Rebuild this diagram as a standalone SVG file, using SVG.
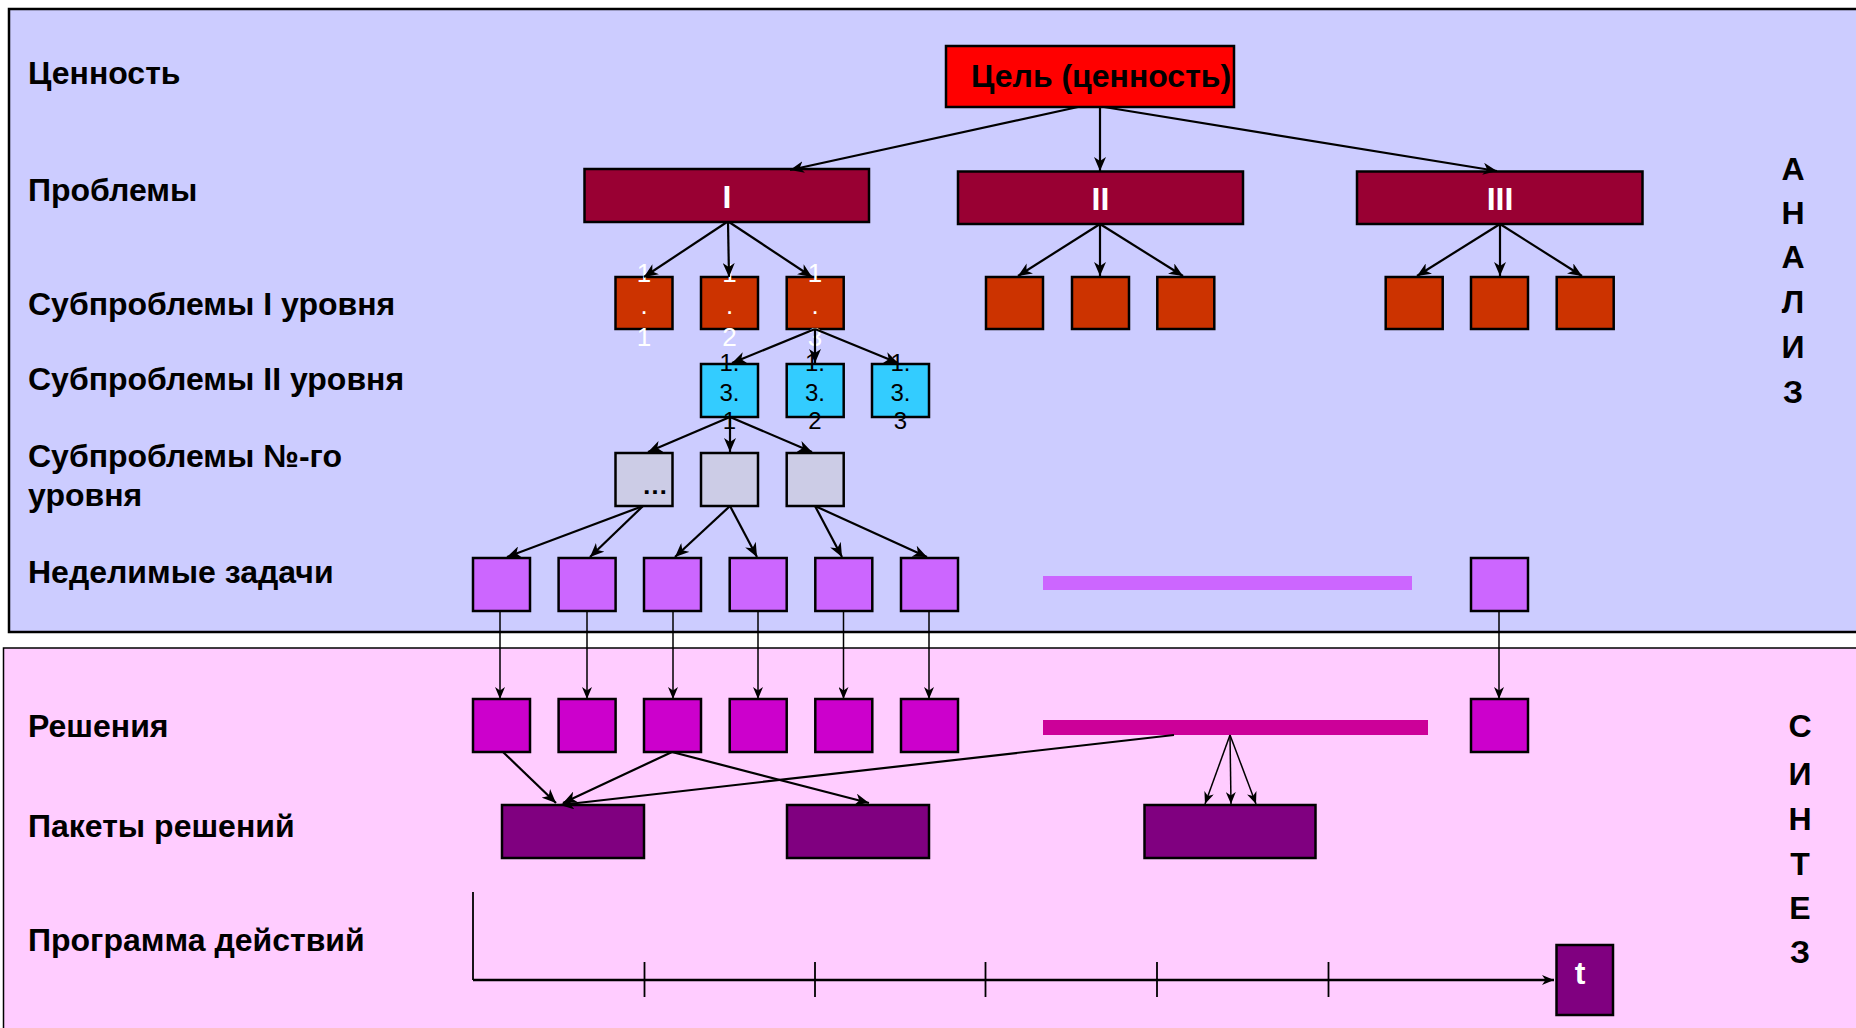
<svg xmlns="http://www.w3.org/2000/svg" width="1856" height="1028" viewBox="0 0 1856 1028">
<defs>
<marker id="arr" markerUnits="userSpaceOnUse" markerWidth="16" markerHeight="12" refX="14" refY="6" orient="auto">
<path d="M0,0 L14,6 L0,12 L4,6 z" fill="#000"/>
</marker>
<marker id="arrs" markerUnits="userSpaceOnUse" markerWidth="14" markerHeight="10" refX="12" refY="5" orient="auto">
<path d="M0,0 L12,5 L0,10 L3.5,5 z" fill="#000"/>
</marker>
</defs>
<style>
.lbl{font-family:"Liberation Sans",Arial,sans-serif;font-weight:bold;font-size:32px;fill:#000}
.side{font-family:"Liberation Sans",Arial,sans-serif;font-weight:bold;font-size:32px;fill:#000;text-anchor:middle}
.box{stroke:#000;stroke-width:2.5}
.goal{fill:#FF0000}
.prob{fill:#990033}
.sub1{fill:#CC3300}
.sub2{fill:#33CCFF}
.subn{fill:#CCCCE6}
.task{fill:#CC66FF}
.sol{fill:#CC00CC}
.pack{fill:#800080}
.wt{font-family:"Liberation Sans",Arial,sans-serif;font-weight:bold;font-size:32px;fill:#fff;text-anchor:middle}
.n1{font-family:"Liberation Sans",Arial,sans-serif;font-size:26px;fill:#fff;text-anchor:middle}
.n2{font-family:"Liberation Sans",Arial,sans-serif;font-size:24px;fill:#000;text-anchor:middle}
.c{stroke:#000;stroke-width:2.2;fill:none;marker-end:url(#arr)}
.cs{stroke:#000;stroke-width:1.5;fill:none;marker-end:url(#arrs)}
.tl{stroke:#000;stroke-width:1.8;fill:none}
</style>

<g id="panels">
<rect x="9" y="9" width="1870" height="623" fill="#CCCCFF" stroke="#000" stroke-width="2.5"/>
<rect x="3.5" y="648" width="1880" height="400" fill="#FFCCFF" stroke="#000" stroke-width="1.5"/>
</g>

<g id="labels">
<text class="lbl" x="28" y="84">Ценность</text>
<text class="lbl" x="28" y="201">Проблемы</text>
<text class="lbl" x="28" y="315">Субпроблемы I уровня</text>
<text class="lbl" x="28" y="390">Субпроблемы II уровня</text>
<text class="lbl" x="28" y="467">Субпроблемы №-го</text>
<text class="lbl" x="28" y="506">уровня</text>
<text class="lbl" x="28" y="583">Неделимые задачи</text>
<text class="lbl" x="28" y="737">Решения</text>
<text class="lbl" x="28" y="837">Пакеты решений</text>
<text class="lbl" x="28" y="951">Программа действий</text>
</g>

<g id="analysis-label">
<text class="side" x="1793" y="180">А</text>
<text class="side" x="1793" y="224">Н</text>
<text class="side" x="1793" y="268">А</text>
<text class="side" x="1793" y="313">Л</text>
<text class="side" x="1793" y="358">И</text>
<text class="side" x="1793" y="403">З</text>
</g>
<g id="synthesis-label">
<text class="side" x="1800" y="737">С</text>
<text class="side" x="1800" y="785">И</text>
<text class="side" x="1800" y="830">Н</text>
<text class="side" x="1800" y="875">Т</text>
<text class="side" x="1800" y="919">Е</text>
<text class="side" x="1800" y="963">З</text>
</g>

<g id="goal">
<rect class="box goal" x="946" y="46" width="288" height="61"/>
<text class="lbl" x="971" y="87">Цель (ценность)</text>
</g>

<g id="problem-I"><rect class="box prob" x="584.5" y="169" width="284.5" height="53"/><text class="wt" x="727" y="208">I</text></g>
<g id="problem-II"><rect class="box prob" x="958" y="171.5" width="285" height="52.5"/><text class="wt" x="1100.5" y="209.5">II</text></g>
<g id="problem-III"><rect class="box prob" x="1357" y="171.5" width="285.5" height="52.5"/><text class="wt" x="1500" y="209.5">III</text></g>

<g id="sub-1-1"><rect class="box sub1" x="615.5" y="277" width="57" height="52"/><text class="n1" x="644" y="282">1</text><text class="n1" x="644" y="313.5">.</text><text class="n1" x="644" y="345.5">1</text></g>
<g id="sub-1-2"><rect class="box sub1" x="701" y="277" width="57" height="52"/><text class="n1" x="729.5" y="282">1</text><text class="n1" x="729.5" y="313.5">.</text><text class="n1" x="729.5" y="345.5">2</text></g>
<g id="sub-1-3"><rect class="box sub1" x="786.7" y="277" width="57" height="52"/><text class="n1" x="815" y="282">1</text><text class="n1" x="815" y="313.5">.</text><text class="n1" x="815" y="345.5">3</text></g>
<g id="sub-2-1"><rect class="box sub1" x="986" y="277" width="57" height="52"/></g>
<g id="sub-2-2"><rect class="box sub1" x="1072" y="277" width="57" height="52"/></g>
<g id="sub-2-3"><rect class="box sub1" x="1157.3" y="277" width="57" height="52"/></g>
<g id="sub-3-1"><rect class="box sub1" x="1385.7" y="277" width="57" height="52"/></g>
<g id="sub-3-2"><rect class="box sub1" x="1471" y="277" width="57" height="52"/></g>
<g id="sub-3-3"><rect class="box sub1" x="1556.7" y="277" width="57" height="52"/></g>

<g id="sub-1-3-1"><rect class="box sub2" x="701" y="364" width="57" height="53"/><text class="n2" x="729.5" y="371">1.</text><text class="n2" x="729.5" y="400.5">3.</text><text class="n2" x="729.5" y="429">1</text></g>
<g id="sub-1-3-2"><rect class="box sub2" x="786.7" y="364" width="57" height="53"/><text class="n2" x="815" y="371">1.</text><text class="n2" x="815" y="400.5">3.</text><text class="n2" x="815" y="429">2</text></g>
<g id="sub-1-3-3"><rect class="box sub2" x="872" y="364" width="57" height="53"/><text class="n2" x="900.5" y="371">1.</text><text class="n2" x="900.5" y="400.5">3.</text><text class="n2" x="900.5" y="429">3</text></g>

<g id="subn-1"><rect class="box subn" x="615.5" y="453" width="57" height="53"/><text x="668" y="494" style="font-family:'Liberation Sans',Arial,sans-serif;font-weight:bold;font-size:26px;text-anchor:end">…</text></g>
<g id="subn-2"><rect class="box subn" x="701" y="453" width="57" height="53"/></g>
<g id="subn-3"><rect class="box subn" x="786.7" y="453" width="57" height="53"/></g>

<g id="task-1"><rect class="box task" x="473" y="558" width="57" height="53"/></g>
<g id="task-2"><rect class="box task" x="558.6" y="558" width="57" height="53"/></g>
<g id="task-3"><rect class="box task" x="644" y="558" width="57" height="53"/></g>
<g id="task-4"><rect class="box task" x="729.7" y="558" width="57" height="53"/></g>
<g id="task-5"><rect class="box task" x="815.3" y="558" width="57" height="53"/></g>
<g id="task-6"><rect class="box task" x="901" y="558" width="57" height="53"/></g>
<g id="task-bar"><rect x="1043" y="576" width="369" height="14" fill="#CC66FF"/></g>
<g id="task-n"><rect class="box task" x="1471" y="558" width="57" height="53"/></g>

<g id="sol-1"><rect class="box sol" x="473" y="699" width="57" height="53"/></g>
<g id="sol-2"><rect class="box sol" x="558.6" y="699" width="57" height="53"/></g>
<g id="sol-3"><rect class="box sol" x="644" y="699" width="57" height="53"/></g>
<g id="sol-4"><rect class="box sol" x="729.7" y="699" width="57" height="53"/></g>
<g id="sol-5"><rect class="box sol" x="815.3" y="699" width="57" height="53"/></g>
<g id="sol-6"><rect class="box sol" x="901" y="699" width="57" height="53"/></g>
<g id="sol-bar"><rect x="1043" y="720" width="385" height="15" fill="#CC0099"/></g>
<g id="sol-n"><rect class="box sol" x="1471" y="699" width="57" height="53"/></g>

<g id="pack-1"><rect class="box pack" x="502" y="805" width="142" height="53"/></g>
<g id="pack-2"><rect class="box pack" x="787" y="805" width="142" height="53"/></g>
<g id="pack-3"><rect class="box pack" x="1144.5" y="805" width="171" height="53"/></g>

<g id="timeline">
<line class="tl" x1="473" y1="892" x2="473" y2="980"/>
<line class="tl" x1="644.5" y1="962" x2="644.5" y2="997"/>
<line class="tl" x1="815" y1="962" x2="815" y2="997"/>
<line class="tl" x1="985.5" y1="962" x2="985.5" y2="997"/>
<line class="tl" x1="1157" y1="962" x2="1157" y2="997"/>
<line class="tl" x1="1328.5" y1="962" x2="1328.5" y2="997"/>
</g>
<g id="t-box"><rect class="box pack" x="1556.5" y="945" width="56.5" height="70"/><text class="wt" x="1580" y="984">t</text></g>

<g id="connectors">
<line class="c" x1="1078" y1="107" x2="790" y2="170"/>
<line class="c" x1="1100" y1="107" x2="1100" y2="171"/>
<line class="c" x1="1104" y1="107" x2="1497" y2="171"/>
<line class="c" x1="727" y1="222" x2="644" y2="277"/>
<line class="c" x1="728" y1="222" x2="729" y2="277"/>
<line class="c" x1="729" y1="222" x2="812" y2="277"/>
<line class="c" x1="1100" y1="224" x2="1018" y2="276"/>
<line class="c" x1="1100" y1="224" x2="1100" y2="276"/>
<line class="c" x1="1100" y1="224" x2="1183" y2="276"/>
<line class="c" x1="1500" y1="224" x2="1417" y2="276"/>
<line class="c" x1="1500" y1="224" x2="1500" y2="276"/>
<line class="c" x1="1500" y1="224" x2="1582" y2="276"/>
<line class="c" x1="815" y1="329" x2="732" y2="363"/>
<line class="c" x1="815" y1="329" x2="815" y2="363"/>
<line class="c" x1="815" y1="329" x2="898" y2="363"/>
<line class="c" x1="730" y1="417" x2="648" y2="452"/>
<line class="c" x1="730" y1="417" x2="730" y2="452"/>
<line class="c" x1="730" y1="417" x2="812" y2="452"/>
<line class="c" x1="643" y1="506" x2="507" y2="557"/>
<line class="c" x1="643" y1="506" x2="590" y2="557"/>
<line class="c" x1="730" y1="506" x2="675" y2="557"/>
<line class="c" x1="730" y1="506" x2="757" y2="557"/>
<line class="c" x1="815" y1="506" x2="842" y2="557"/>
<line class="c" x1="815" y1="506" x2="927" y2="557"/>
<line class="cs" x1="500" y1="611" x2="500" y2="699"/>
<line class="cs" x1="587" y1="611" x2="587" y2="699"/>
<line class="cs" x1="673" y1="611" x2="673" y2="699"/>
<line class="cs" x1="758" y1="611" x2="758" y2="699"/>
<line class="cs" x1="843.5" y1="611" x2="843.5" y2="699"/>
<line class="cs" x1="929" y1="611" x2="929" y2="699"/>
<line class="cs" x1="1499" y1="611" x2="1499" y2="699"/>
<line class="c" x1="503" y1="752" x2="556" y2="803"/>
<line class="c" x1="672" y1="752" x2="563" y2="803"/>
<line class="c" x1="672" y1="752" x2="869" y2="803"/>
<line class="c" x1="1174" y1="735" x2="560" y2="805"/>
<line class="cs" x1="1230" y1="735" x2="1205" y2="804"/>
<line class="cs" x1="1230" y1="735" x2="1231" y2="804"/>
<line class="cs" x1="1230" y1="735" x2="1256" y2="804"/>
<line class="cs" x1="473" y1="980" x2="1554" y2="980" style="stroke-width:2.5"/>
</g>
</svg>
